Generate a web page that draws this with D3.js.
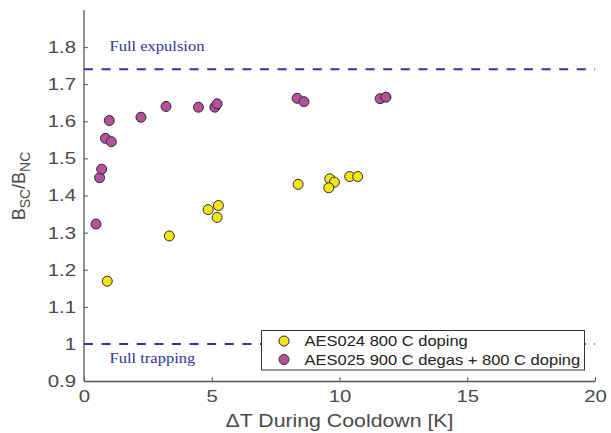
<!DOCTYPE html>
<html>
<head>
    <meta charset="UTF-8" />
    <title>Flux expulsion vs cooldown</title>
    <script src="https://d3js.org/d3.v7.min.js"></script>
    <style>
    body { margin: 0; background: #fff; }
    text { font-family: "Liberation Sans", Arial, sans-serif; }
    </style>
</head>

<body>
<div id="main"></div>
<script type="text/javascript">

// AES024 800 C doping
const aes024X = [0.91, 3.34, 4.86, 5.26, 5.21, 8.38, 9.62, 9.80, 9.58, 10.40, 10.71]
const aes024Y = [1.169, 1.291, 1.362, 1.373, 1.341, 1.430, 1.445, 1.436, 1.421, 1.451, 1.451]

// AES025 900 C degas + 800 C doping
const aes025X = [0.47, 0.61, 0.69, 0.84, 1.07, 0.99, 2.23, 3.21, 4.48, 5.12, 5.21, 8.34, 8.61, 11.59, 11.82]
const aes025Y = [1.323, 1.448, 1.471, 1.554, 1.545, 1.602, 1.611, 1.640, 1.638, 1.638, 1.647, 1.662, 1.653, 1.661, 1.665]

const seriesNames = ['AES024 800 C doping', 'AES025 900 C degas + 800 C doping']
const seriesColors = ['#f4e616', '#b4509d']

const xTicks = [0, 5, 10, 15, 20]
const yTicks = [0.9, 1, 1.1, 1.2, 1.3, 1.4, 1.5, 1.6, 1.7, 1.8]

const refLines = [
  { value: 1.74, label: 'Full expulsion', dy: -18 },
  { value: 1.0, label: 'Full trapping', dy: 19.5 }
]

const width = 611
const height = 433
const margin = { left: 84, right: 16, top: 10, bottom: 52 }

const x = d3.scaleLinear()
  .domain([0, 20])
  .range([margin.left, width - margin.right])

const y = d3.scaleLinear()
  .domain([0.9, 1.9])
  .range([height - margin.bottom, margin.top])

const svg = d3.select('#main').append('svg')
  .attr('width', width)
  .attr('height', height)

// the original text is a bit wider than our fonts, stretch it
function widen(sel, k) {
  sel.each(function() {
    const len = this.getComputedTextLength()
    d3.select(this).attr('textLength', len * k).attr('lengthAdjust', 'spacingAndGlyphs')
  })
}

const axisColor = '#555'
const textColor = '#4a4a4a'

// axes, ticks pointing inward
const xAxis = svg.append('g')
  .attr('transform', `translate(0,${y(0.9)})`)
  .call(d3.axisBottom(x).tickValues(xTicks).tickSizeInner(-4).tickSizeOuter(0).tickPadding(9))
const yAxis = svg.append('g')
  .attr('transform', `translate(${x(0)},0)`)
  .call(d3.axisLeft(y).tickValues(yTicks).tickFormat(d => d === 1 ? '1' : d3.format('.1f')(d))
    .tickSizeInner(-4).tickSizeOuter(0).tickPadding(8))

svg.selectAll('.domain').attr('stroke', axisColor).attr('stroke-width', 1.3)
svg.selectAll('.tick line').attr('stroke', axisColor)
svg.selectAll('.tick text')
  .attr('fill', textColor)
  .style('font-size', '17px')
  .style('font-family', '"Liberation Sans", Arial, sans-serif')
  .call(widen, 1.2)

// y axis top extends to 1.9
yAxis.select('.domain').attr('d', `M0,${y(1.9)}V${y(0.9)}`)

// reference lines
refLines.forEach(r => {
  svg.append('line')
    .attr('x1', x(0)).attr('x2', x(20))
    .attr('y1', y(r.value)).attr('y2', y(r.value))
    .attr('stroke', '#33339a')
    .attr('stroke-width', 2)
    .attr('stroke-dasharray', '9,8.6')
  svg.append('text')
    .attr('x', x(1))
    .attr('y', y(r.value) + r.dy)
    .attr('fill', '#33339a')
    .style('font-family', '"Liberation Serif", "Times New Roman", serif')
    .style('font-size', '15px')
    .text(r.label)
    .call(widen, 1.1)
})

// points
const series = [
  { xs: aes024X, ys: aes024Y, color: seriesColors[0] },
  { xs: aes025X, ys: aes025Y, color: seriesColors[1] }
]

series.forEach(s => {
  svg.append('g').selectAll('circle')
    .data(s.xs.map((v, i) => [v, s.ys[i]]))
    .enter().append('circle')
    .attr('cx', d => x(d[0]))
    .attr('cy', d => y(d[1]))
    .attr('r', 5)
    .attr('fill', s.color)
    .attr('stroke', '#2a2a2a')
    .attr('stroke-width', 1)
})

// legend
const legend = svg.append('g').attr('transform', 'translate(261.5,330.5)')
legend.append('rect')
  .attr('width', 323)
  .attr('height', 39.5)
  .attr('fill', '#fff')
  .attr('stroke', '#333')
  .attr('stroke-width', 1)

seriesNames.forEach((name, i) => {
  legend.append('circle')
    .attr('cx', 22.5)
    .attr('cy', 10.5 + i * 18.5)
    .attr('r', 5)
    .attr('fill', seriesColors[i])
    .attr('stroke', '#2a2a2a')
  legend.append('text')
    .attr('x', 43)
    .attr('y', 15.5 + i * 18.5)
    .attr('fill', '#222')
    .style('font-size', '15px')
    .text(name)
    .call(widen, 1.1)
})

// axis labels
svg.append('text')
  .attr('x', (x(0) + x(20)) / 2)
  .attr('y', 427)
  .attr('text-anchor', 'middle')
  .attr('fill', textColor)
  .style('font-size', '19px')
  .text('ΔT During Cooldown [K]')
  .call(widen, 1.12)

const yLabel = svg.append('text')
  .attr('transform', 'translate(25,186) rotate(-90)')
  .attr('text-anchor', 'middle')
  .attr('fill', textColor)
  .style('font-size', '18px')
yLabel.append('tspan').text('B')
yLabel.append('tspan').attr('dy', 5).style('font-size', '14px').text('SC')
yLabel.append('tspan').attr('dy', -5).text('/B')
yLabel.append('tspan').attr('dy', 5).style('font-size', '14px').text('NC')

</script>
</body>
</html>
